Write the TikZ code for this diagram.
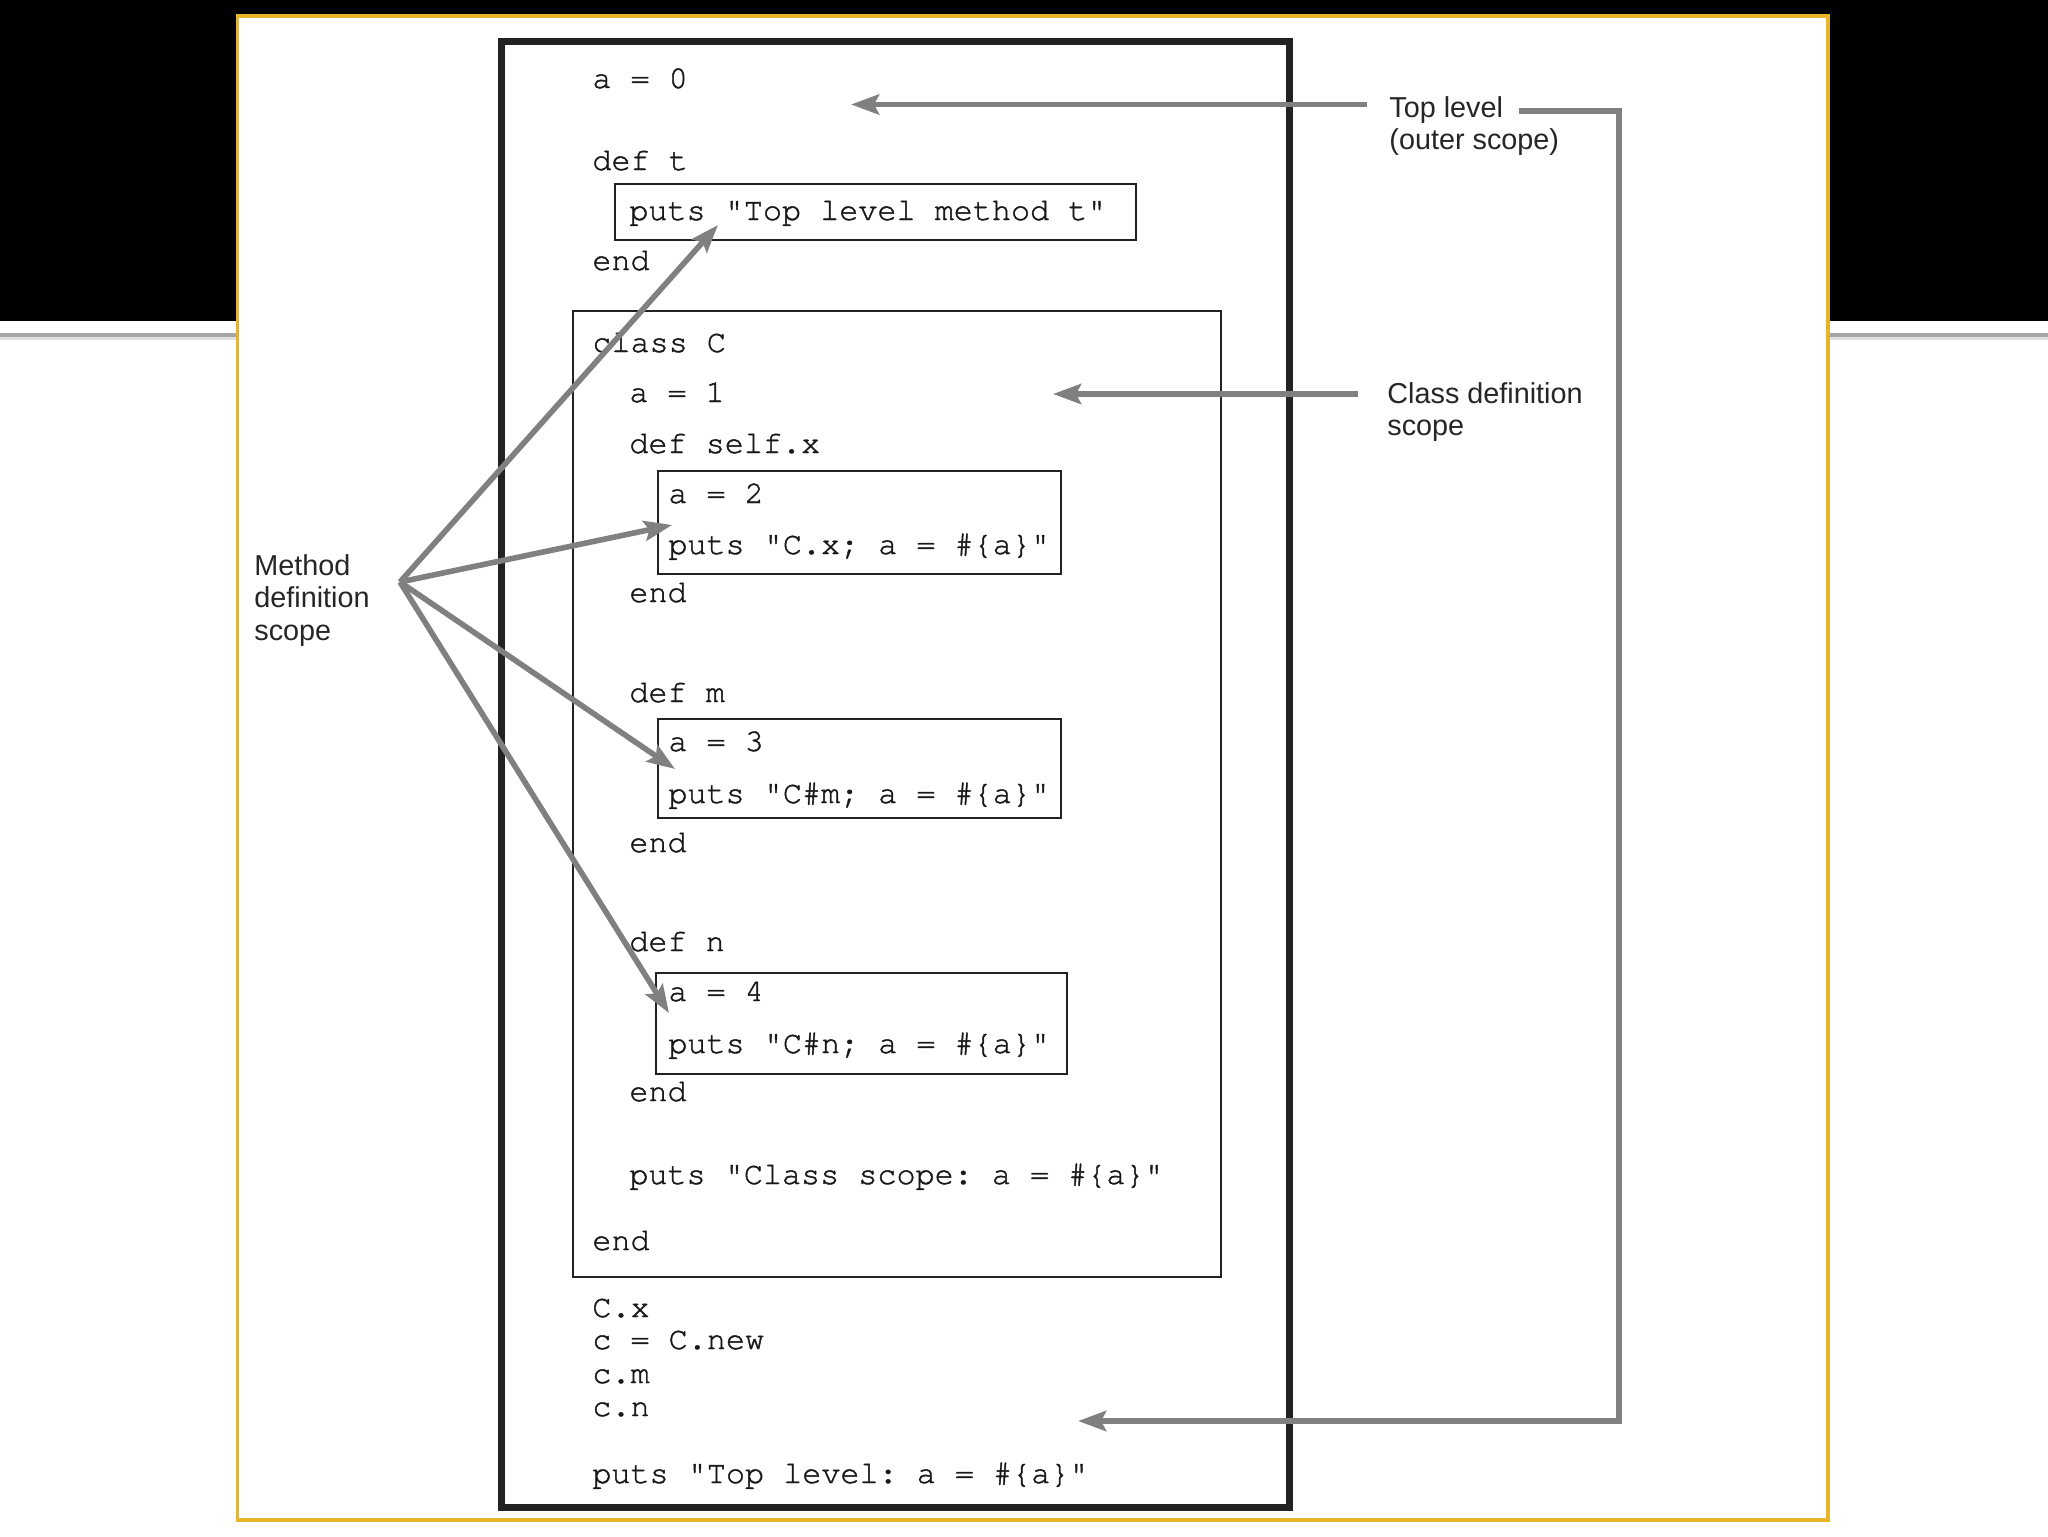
\documentclass[tikz,border=0pt]{standalone}
\usepackage{fontspec}
\setmainfont{Liberation Sans}
\setmonofont[FakeBold=1.3]{TeX Gyre Cursor}
\usetikzlibrary{arrows.meta}
\definecolor{gold}{RGB}{233,180,42}
\definecolor{arrgray}{RGB}{128,128,128}
\definecolor{boxblack}{RGB}{34,34,34}
\begin{document}
\begin{tikzpicture}[x=0.5pt,y=-0.5pt,
  code/.style={anchor=base west, inner sep=0pt, font=\fontsize{15.9}{18}\ttfamily, text=black!90},
  lbl/.style={anchor=base west, inner sep=0pt, font=\fontsize{14.4}{16.5}\selectfont, text=black!85},
  scopebox/.style={draw=boxblack, line width=1pt},
  ptr/.style={draw=arrgray, line width=2.8pt, -{Stealth[length=14pt,width=10pt,inset=2.5pt]}},
  wire/.style={draw=arrgray, line width=2.8pt}]
\useasboundingbox (0,0) rectangle (2048,1536);
% slide background
\fill[white] (0,0) rectangle (2048,1536);
\fill[black] (0,0) rectangle (2048,321);
\fill[gray!70] (0,333) rectangle (2048,337);
\fill[gray!25] (0,337) rectangle (2048,340);
\draw[gold, line width=1.75pt, fill=white] (237.5,16) rectangle (1828,1520);
% scope boxes
\draw[boxblack, line width=3.5pt] (501,42) rectangle (1289,1507);
\draw[scopebox] (573,311) rectangle (1221,1277);
\draw[scopebox] (615,184) rectangle (1136,240);
\draw[scopebox] (658,471) rectangle (1061,574);
\draw[scopebox] (658,719) rectangle (1061,818);
\draw[scopebox] (656,973) rectangle (1067,1074);
% code, top level
\node[code] (c1) at (592,88) {a = 0};
\node[code] (c2) at (592,170) {def t};
\node[code] (c3) at (629,220) {puts "Top level method t"};
\node[code] (c4) at (592,270) {end};
\node[code] (c5) at (592,352) {class C};
\node[code] (c6) at (629,402) {a = 1};
\node[code] (c7) at (629,453) {def self.x};
\node[code] (c8) at (668,503) {a = 2};
\node[code] (c9) at (668,554) {puts "C.x; a = \#\{a\}"};
\node[code] (c10) at (629,602) {end};
\node[code] (c11) at (629,702) {def m};
\node[code] (c12) at (668,751) {a = 3};
\node[code] (c13) at (668,803) {puts "C\#m; a = \#\{a\}"};
\node[code] (c14) at (629,852) {end};
\node[code] (c15) at (629,951) {def n};
\node[code] (c16) at (668,1001) {a = 4};
\node[code] (c17) at (668,1053) {puts "C\#n; a = \#\{a\}"};
\node[code] (c18) at (629,1101) {end};
\node[code] (c19) at (629,1184) {puts "Class scope: a = \#\{a\}"};
\node[code] (c20) at (592,1250) {end};
\node[code] (c21) at (592,1317) {C.x};
\node[code] (c22) at (592,1349) {c = C.new};
\node[code] (c23) at (592,1383) {c.m};
\node[code] (c24) at (592,1416) {c.n};
\node[code] (c25) at (592,1483) {puts "Top level: a = \#\{a\}"};
% labels
\node[lbl] (tl1) at (1389,118) {Top level};
\node[lbl] (tl2) at (1389,149) {(outer scope)};
\node[lbl] (cd1) at (1387,403) {Class definition};
\node[lbl] (cd2) at (1387,435) {scope};
\node[lbl] (md1) at (254,575) {Method};
\node[lbl] (md2) at (254,607) {definition};
\node[lbl] (md3) at (254,640) {scope};
% connector points
\coordinate (tlA) at (1367,104.5);
\coordinate (tlAt) at (851,104.5);
\coordinate (tlB) at (1519,111);
\coordinate (tlC) at (1619,1421);
\coordinate (tlBt) at (1078,1421);
\coordinate (cdA) at (1358,394);
\coordinate (cdAt) at (1053,394);
\coordinate (mo) at (400,582);
\coordinate (mt) at (718,225);
\coordinate (mx) at (672,525);
\coordinate (mm) at (675,769);
\coordinate (mn) at (669,1013);
% connectors
\draw[ptr] (tlA) -- (tlAt);
\draw[ptr] (tlB) -| (tlC) -- (tlBt);
\draw[ptr] (cdA) -- (cdAt);
\draw[ptr] (mo) -- (mt);
\draw[ptr] (mo) -- (mx);
\draw[ptr] (mo) -- (mm);
\draw[ptr] (mo) -- (mn);
\end{tikzpicture}
\end{document}
